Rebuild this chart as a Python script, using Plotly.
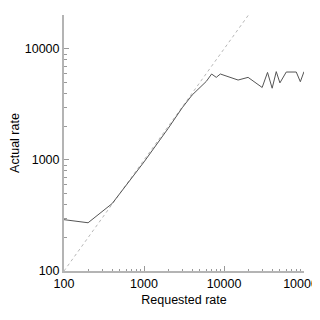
import plotly.graph_objects as go

requested = [100, 200, 400, 500, 700, 1000, 2000, 3000, 4000, 5000, 6000, 7000, 8000, 9000,
             15000, 20000, 30000, 35000, 40000, 45000, 50000, 60000, 70000, 80000, 90000, 100000]
actual = [290, 272, 405, 500, 680, 960, 1920, 2950, 3850, 4450, 5100, 5950, 5550, 5950,
          5250, 5550, 4500, 6150, 4430, 6250, 4950, 6200, 6200, 6200, 5070, 6250]
ideal = [100, 100000]
major_ticks = [100, 1000, 10000, 100000]
minor_ticks = [m * 10 ** e for e in range(2, 5) for m in range(2, 10)]

FONT = "Liberation Sans, Arial, sans-serif"

fig = go.Figure()
fig.add_trace(go.Scatter(x=ideal, y=ideal, mode="lines",
                         line=dict(color="#b8b8b8", width=1, dash="dot"), hoverinfo="skip"))
fig.add_trace(go.Scatter(x=requested, y=actual, mode="lines",
                         line=dict(color="#555555", width=1)))

axis_common = dict(
    type="log", showgrid=False, zeroline=False, showline=True, automargin=False,
    linecolor="#b4b4b4", linewidth=2, ticks="inside", ticklen=5, tickwidth=1,
    tickcolor="#999999", tickmode="array", tickvals=major_ticks,
    ticktext=[str(v) for v in major_ticks], ticklabeloverflow="allow",
    tickfont=dict(family=FONT, size=12.5, color="#000"),
    minor=dict(ticks="inside", ticklen=2.5, tickcolor="#999999", tickwidth=1,
               tickmode="array", tickvals=minor_ticks, showgrid=False),
)
fig.update_xaxes(**axis_common, range=[2, 5],
                 title=dict(text="Requested rate", standoff=5,
                            font=dict(family=FONT, size=12.5, color="#000")))
fig.update_yaxes(**axis_common, range=[2, 4.306],
                 title=dict(text="Actual rate", standoff=4,
                            font=dict(family=FONT, size=12.5, color="#000")))

fig.update_layout(
    width=312, height=312, showlegend=False,
    plot_bgcolor="white", paper_bgcolor="white",
    margin=dict(l=56, r=16, t=7, b=49, autoexpand=False),
)
fig.write_html("out.html")
